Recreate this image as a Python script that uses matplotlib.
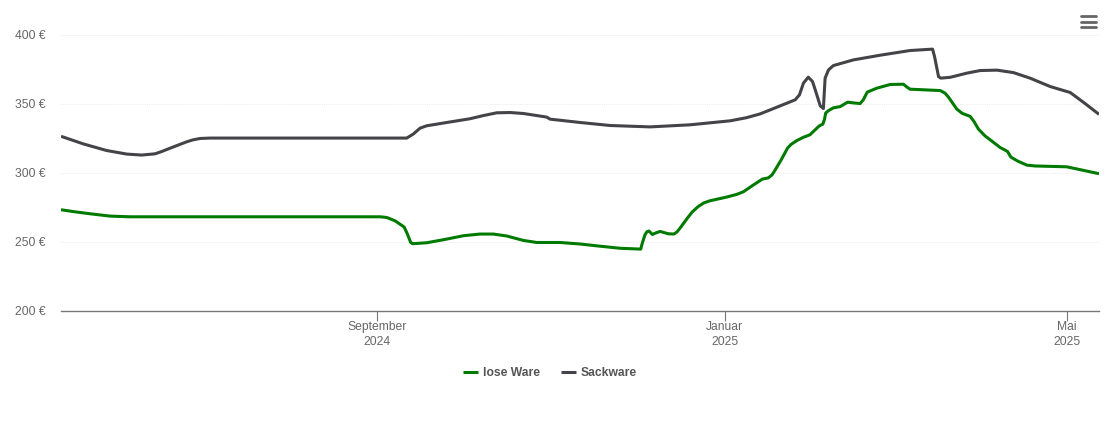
import pandas as pd
import matplotlib.pyplot as plt
from matplotlib.lines import Line2D

plt.rcParams['font.family'] = ['Liberation Sans', 'DejaVu Sans']

BASE = pd.Timestamp('2024-09-01')

# days relative to 1 Sep 2024, prices in euro
lose_days = [-110.9, -106, -100.7, -93.7, -86.7, 1.1, 3.4, 6.3, 9.5, 10.6, 11.8, 12.5, 17.4, 23.3, 30.3, 36.1,
             40.8, 45.5, 51.3, 56, 64.2, 71.2, 78.3, 85.3, 92.5, 93.1, 94, 94.7, 95.4, 96.6, 97.9, 99.3,
             102.2, 104.2, 105.3, 106.3, 108.9, 110.5, 112.7, 114.7, 116.8, 122.7, 126.3, 128.5, 132, 135.2,
             137.3, 138.6, 139.7, 141.8, 144, 145.3, 147.3, 149.5, 151.9, 153.7, 155.2, 156.4, 157, 157.4,
             158.4, 160.1, 162.5, 165.1, 167, 169.5, 170.6, 172, 175.3, 180, 184.7, 185.8, 187, 192.3,
             197.6, 199.3, 200.5, 203.4, 205.3, 208.1, 209.5, 211, 213.3, 218.6, 221.2, 222.4, 224.9, 228,
             230.9, 242, 253.3]
lose_ware = [273.1, 271.6, 270.2, 268.5, 268, 268, 267.5, 265.1, 260.6, 255.7, 249.4, 248.5, 249.2, 251.4, 254.3, 255.5,
             255.5, 254.1, 250.9, 249.4, 249.4, 248.3, 246.7, 245.2, 244.6, 249.2, 255, 257.2, 257.7, 255.2, 256.4, 257.4,
             255.7, 255.5, 257.2, 259.8, 267.1, 271.3, 275.5, 278.1, 279.6, 282.3, 284.3, 286.1, 291, 295.3,
             296.2, 298.4, 302, 309.3, 317.7, 320.5, 323.2, 325.5, 327.4, 331, 333.9, 335.1, 338.7, 343.1,
             344.9, 346.9, 347.8, 351, 350.5, 350, 352.7, 358.3, 361.1, 363.8, 364, 362.1, 360.4, 359.9,
             359.4, 357.5, 354.6, 346, 342.9, 340.7, 336.8, 331.5, 326.6, 318.2, 315.3, 311.2, 308.2, 305.4,
             304.8, 304.2, 299.2]

sack_days = [-110.9, -103.1, -94.9, -87.8, -82.6, -77.9, -75.4, -72.6, -66.8, -64.6, -62.1, -58.6, 10.4, 12.7, 15.1,
             17.4, 24.5, 32.6, 37.3, 42, 46.7, 51.3, 59.5, 60.7, 71.2, 81.8, 95.8, 109.8, 123.9, 129.5, 134.4,
             141.4, 146.7, 148.2, 149.6, 151.3, 152.8, 154.3, 155.5, 156.6, 157.2, 158.4, 160.1, 167.1, 176.5,
             187, 194.9, 195.6, 197, 197.8, 201.1, 206.9, 211.6, 217.5, 223.3, 229.1, 236.2, 243.2, 248.1, 253.3]
sackware = [326.3, 320.8, 316, 313.4, 312.7, 313.6, 315.4, 317.7, 322.3, 323.7, 324.7, 325, 325, 327.9, 332.2,
            333.9, 336.3, 339, 341.3, 343.3, 343.5, 342.8, 340.2, 338.7, 336.3, 334.1, 333.1, 334.6, 337.5, 339.7, 342.5,
            348.3, 352.7, 356.3, 364.8, 369.1, 365.9, 356.3, 348.3, 346.4, 368.4, 374.4, 377.5, 381.6, 385,
            388.4, 389.4, 384, 369.5, 368.4, 369, 372, 373.9, 374.2, 372.4, 368.4, 362.3, 358, 350.5, 342.2]

y_ticks = [200, 250, 300, 350, 400]
x_tick_dates = ['2024-09-01', '2025-01-01', '2025-05-01']
x_tick_labels = ['September\n2024', 'Januar\n2025', 'Mai\n2025']


def to_dates(days):
    return BASE + pd.to_timedelta(days, unit='D')


W, H = 1110, 422
fig = plt.figure(figsize=(W / 100, H / 100), dpi=100)
ax = fig.add_axes([61 / W, 1 - 310.7 / H, (1099 - 61) / W, (310.7 - 34.5) / H])

ax.plot(to_dates(lose_days), lose_ware, color='#007a00', lw=2.2, label='lose Ware',
        solid_joinstyle='round', solid_capstyle='butt')
ax.plot(to_dates(sack_days), sackware, color='#434348', lw=2.2, label='Sackware',
        solid_joinstyle='round', solid_capstyle='butt')

ax.set_xlim(to_dates([-110.9, 253.3]))
ax.set_ylim(200, 400)

ax.set_yticks(y_ticks)
ax.set_yticklabels([f'{v} €' for v in y_ticks])
ax.set_xticks(pd.to_datetime(x_tick_dates))
ax.set_xticklabels(x_tick_labels, linespacing=1.33)

ax.grid(axis='y', color='#ececec', lw=0.7, ls=(0, (1, 1)))
ax.set_axisbelow(True)
for side in ['top', 'left', 'right']:
    ax.spines[side].set_visible(False)
ax.spines['bottom'].set_color('#777777')
ax.spines['bottom'].set_linewidth(1)
ax.tick_params(axis='y', length=0, pad=11, labelsize=8.7, labelcolor='#666666')
ax.tick_params(axis='x', length=7.2, width=0.8, color='#777777', pad=0.5, labelsize=8.7, labelcolor='#666666')

leg = fig.legend(loc='center', bbox_to_anchor=(550 / W, 1 - 373 / H), ncols=2, frameon=False,
                 handlelength=1.25, handletextpad=0.42, columnspacing=1.7,
                 prop={'size': 8.7, 'weight': 'bold'}, labelcolor='#555555')

# menu icon, top right
for y in [16, 21.5, 27]:
    fig.add_artist(Line2D([1081 / W, 1096 / W], [1 - y / H, 1 - y / H], color='#666666', lw=2.0,
                          solid_capstyle='round'))

plt.savefig('out.png', dpi=100)
plt.close()
